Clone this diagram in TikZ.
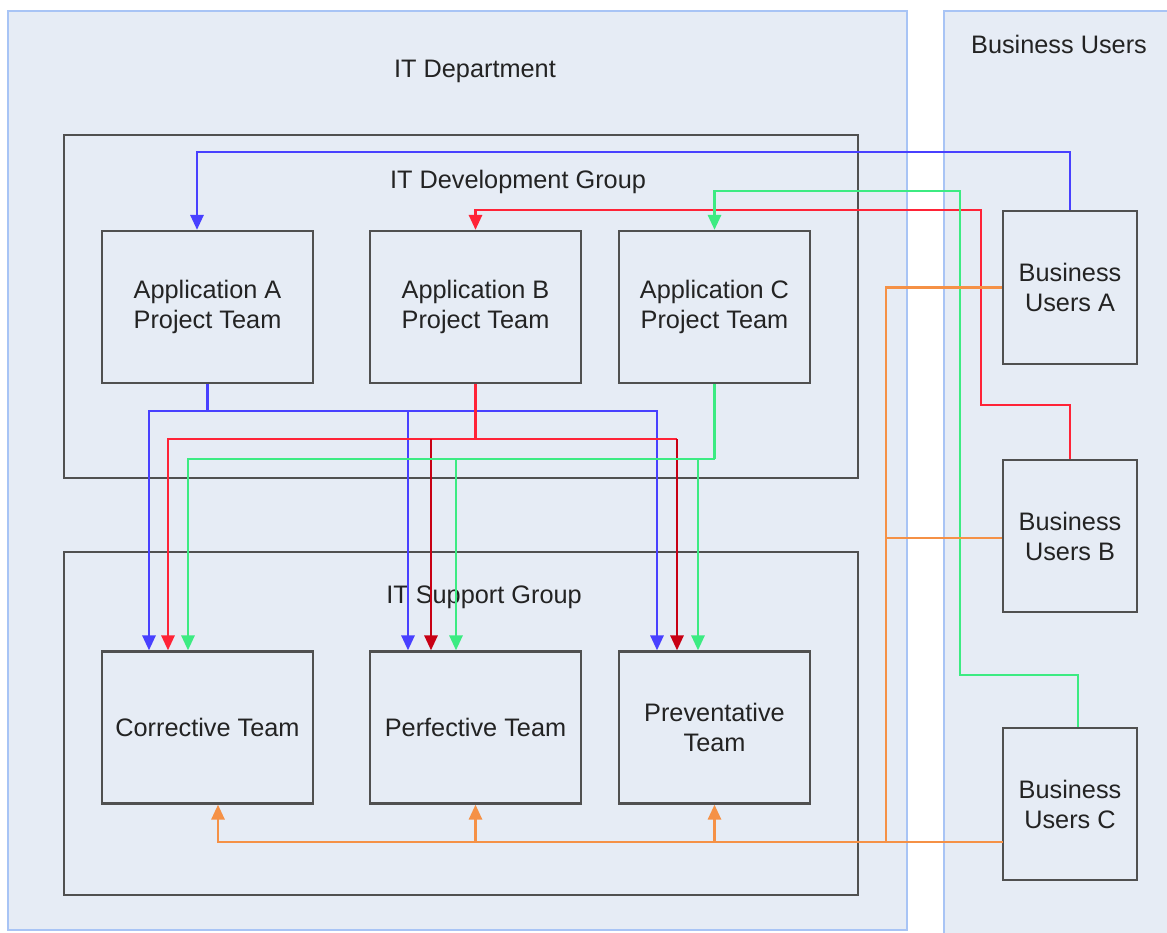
\documentclass[tikz,border=0pt]{standalone}
\usepackage{fontspec}
\setmainfont{Liberation Sans}
\usetikzlibrary{arrows.meta}
\definecolor{cblue}{RGB}{72,64,255}
\definecolor{cred}{RGB}{255,35,55}
\definecolor{cdred}{RGB}{200,0,20}
\definecolor{cgreen}{RGB}{60,235,130}
\definecolor{corange}{RGB}{245,145,70}
\definecolor{pfill}{RGB}{230,236,245}
\definecolor{pborder}{RGB}{168,196,245}
\definecolor{bborder}{RGB}{80,80,80}
\definecolor{ctext}{RGB}{35,35,35}
\tikzset{
  panel/.style={fill=pfill, draw=pborder, line width=1.5pt},
  grp/.style={draw=bborder, line width=2.2pt, fill=pfill, minimum width=794pt, minimum height=343pt, inner sep=0pt},
  box/.style={draw=bborder, line width=2.2pt, fill=pfill, minimum width=211pt, minimum height=152pt, inner sep=0pt, align=center, text=ctext, font=\fontsize{25.3}{30}\selectfont},
  lbl/.style={text=ctext, font=\fontsize{25.3}{30}\selectfont, inner sep=0pt},
  conn/.style={line width=2.8pt},
  tip/.style={-{Triangle[length=15pt,width=13pt]}},
}
\begin{document}
\begin{tikzpicture}[x=1pt,y=-1pt]
\useasboundingbox (0,0) rectangle (1167,932);
\fill[white] (0,0) rectangle (1167,932);
% panels
\draw[panel] (8,11) rectangle (907,930);
\draw[panel] (944,11) rectangle (1185,945);
\node[lbl] (itdlbl) at (475,71) {IT Department};
\node[lbl] (buslbl) at (1059,44) {Business Users};
% groups
\node[grp] (dev) at (461,306.5) {};
\node[lbl] (devlbl) at (518,182) {IT Development Group};
\node[grp] (sup) at (461,723.5) {};
\node[lbl] (suplbl) at (484,597) {IT Support Group};
% boxes
\node[box] (appa) at (207.5,307) {Application A\\Project Team};
\node[box] (appb) at (475.5,307) {Application B\\Project Team};
\node[box, minimum width=191pt] (appc) at (714.5,307) {Application C\\Project Team};
\node[box] (corr) at (207.5,727.5) {Corrective Team};
\node[box] (perf) at (475.5,727.5) {Perfective Team};
\node[box, minimum width=191pt] (prev) at (714.5,727.5) {Preventative\\Team};
\node[box, minimum width=134pt, minimum height=153pt] (bua) at (1070,287.5) {Business\\Users A};
\node[box, minimum width=134pt, minimum height=152pt] (bub) at (1070,536) {Business\\Users B};
\node[box, minimum width=134pt, minimum height=152pt] (buc) at (1070,804) {Business\\Users C};
% junction coordinates
\coordinate (bj) at (207.5,411);
\coordinate (rj) at (475.5,439);
\coordinate (gj) at (714.5,459);
\coordinate (oj) at (886,842);
\coordinate (ocs) at (1003,842);
% business users to app teams
\draw[conn, cblue, tip] (bua.north) -- ++(0,-58) -| ([xshift=-10.5pt]appa.north);
\draw[conn, cred, tip] (bub.north) -- ++(0,-54) -| (981,210) -| (appb.north);
\draw[conn, cgreen, tip] ([xshift=8pt]buc.north) -- ++(0,-52) -| (960,191) -| (appc.north);
% app A (blue)
\draw[conn, cblue] (appa.south) -- (bj);
\draw[conn, cblue, tip] (bj) -| ([xshift=-58.5pt]corr.north);
\draw[conn, cblue, tip] (bj) -| ([xshift=-67.5pt]perf.north);
\draw[conn, cblue, tip] (bj) -| ([xshift=-57.5pt]prev.north);
% app B (red)
\draw[conn, cred] (appb.south) -- (rj);
\draw[conn, cred, tip] (rj) -| ([xshift=-39.5pt]corr.north);
\draw[conn, cred] (rj) -- ([xshift=-37.5pt]prev.north |- rj);
\draw[conn, cdred, tip] ([xshift=-44.5pt]perf.north |- rj) -- ([xshift=-44.5pt]perf.north);
\draw[conn, cdred, tip] ([xshift=-37.5pt]prev.north |- rj) -- ([xshift=-37.5pt]prev.north);
% app C (green)
\draw[conn, cgreen] (appc.south) -- (gj);
\draw[conn, cgreen, tip] (gj) -| ([xshift=-19.5pt]corr.north);
\draw[conn, cgreen, tip] (gj) -| ([xshift=-19.5pt]perf.north);
\draw[conn, cgreen, tip] (gj) -| ([xshift=-16.5pt]prev.north);
% orange (business users to support)
\draw[conn, corange] (bua.west) -| (oj);
\draw[conn, corange] ([yshift=-2pt]bub.west) -- ([yshift=-2pt]bub.west -| oj);
\draw[conn, corange, tip] (ocs) -| ([xshift=10.5pt]corr.south);
\draw[conn, corange, tip] (perf.south |- oj) -- (perf.south);
\draw[conn, corange, tip] (prev.south |- oj) -- (prev.south);
\end{tikzpicture}
\end{document}
